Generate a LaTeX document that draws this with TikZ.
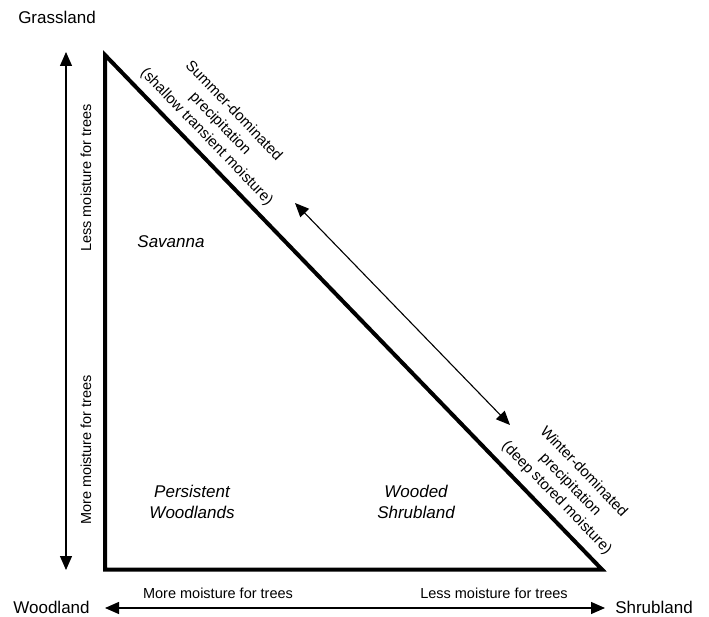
\documentclass[tikz,border=0pt]{standalone}
\usepackage{fontspec}
\setmainfont{Liberation Sans}
\usetikzlibrary{arrows.meta}
\begin{document}
\begin{tikzpicture}[x=1pt,y=-1pt,
  corner/.style={font=\fontsize{17}{20}\selectfont, anchor=base, inner sep=0pt},
  region/.style={font=\fontsize{17}{21}\selectfont\itshape, align=center, inner sep=0pt},
  axislabel/.style={font=\fontsize{14.5}{17}\selectfont, anchor=base, inner sep=0pt},
  diag/.style={font=\fontsize{15}{18.7}\selectfont, align=center, rotate=-46, inner sep=0pt},
  dblarrow/.style={{Triangle[length=14pt,width=12pt]}-{Triangle[length=14pt,width=12pt]}, line width=1.3pt},
  tri/.style={line width=4pt, line join=miter}]
\useasboundingbox (0,0) rectangle (709,617);
\fill[white] (0,0) rectangle (709,617);
% triangle
\coordinate (T) at (105,55);
\coordinate (BL) at (105,569.5);
\coordinate (BR) at (602,569.5);
\draw[tri] (T) -- (BL) -- (BR) -- cycle;
% arrows
\coordinate (vtop) at (66,52);
\coordinate (vbot) at (66,570);
\coordinate (hl) at (105,608);
\coordinate (hr) at (605,608);
\coordinate (dtop) at (295,203);
\coordinate (dbot) at (510,425);
\draw[dblarrow] (vtop) -- (vbot);
\draw[dblarrow] (hl) -- (hr);
\draw[dblarrow, line width=1.1pt] (dtop) -- (dbot);
% corner labels
\node[corner] (grass) at (57,24) {Grassland};
\node[corner] (wood) at (51.5,613) {Woodland};
\node[corner] (shrub) at (654,613) {Shrubland};
% axis labels
\node[axislabel] (hmore) at (218,598) {More moisture for trees};
\node[axislabel] (hless) at (494,598) {Less moisture for trees};
\node[axislabel, rotate=90] (vless) at (91,178) {Less moisture for trees};
\node[axislabel, rotate=90] (vmore) at (91,450) {More moisture for trees};
% regions
\node[region, anchor=base] (sav) at (171,248) {Savanna};
\node[region] (pers) at (192,502) {Persistent\\Woodlands};
\node[region] (wsh) at (416,502) {Wooded\\Shrubland};
% diagonal texts
\node[diag] (summer) at (220,124) {Summer-dominated\\precipitation\\(shallow transient moisture)};
\node[diag] (winter) at (570,485) {Winter-dominated\\precipitation\\(deep stored moisture)};
\end{tikzpicture}
\end{document}
